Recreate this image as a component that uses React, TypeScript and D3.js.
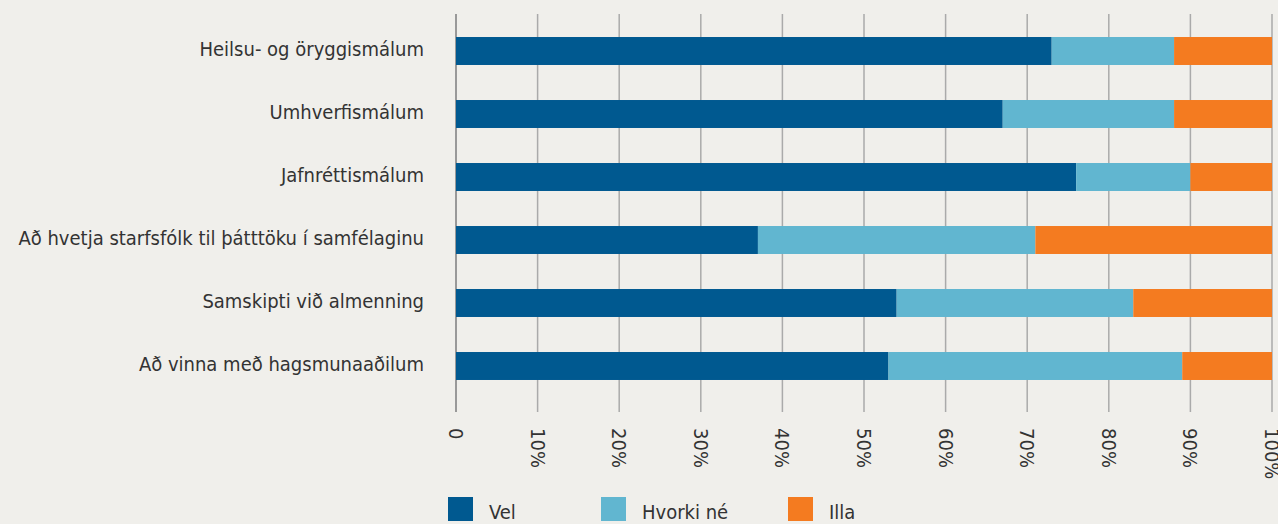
import React from "react";
import * as d3 from "d3";

const categories = [
  "Heilsu- og öryggismálum",
  "Umhverfismálum",
  "Jafnréttismálum",
  "Að hvetja starfsfólk til þátttöku í samfélaginu",
  "Samskipti við almenning",
  "Að vinna með hagsmunaaðilum",
];
const seriesNames = ["Vel", "Hvorki né", "Illa"];
const vel = [73, 67, 76, 37, 54, 53];
const hvorki = [15, 21, 14, 34, 29, 36];
const illa = [12, 12, 10, 29, 17, 11];
const ticks = [0, 10, 20, 30, 40, 50, 60, 70, 80, 90, 100];
const tickLabels = ["0", "10%", "20%", "30%", "40%", "50%", "60%", "70%", "80%", "90%", "100%"];
const colors = ["#005990", "#61b6d0", "#f47b20"];

const W = 1278;
const H = 524;
const FONT = "'Liberation Sans Narrow', 'DejaVu Sans Condensed', 'Roboto', sans-serif";

export default function App() {
  const x = d3.scaleLinear().domain([0, 100]).range([456, 1272]);
  const y = d3.scaleBand<string>().domain(categories).range([19.5, 397.5]).paddingInner(0.556).paddingOuter(0.278);
  const rows = categories.map((c, i) => ({ cat: c, Vel: vel[i], "Hvorki né": hvorki[i], Illa: illa[i] }));
  const stack = d3.stack<any>().keys(seriesNames)(rows);

  return (
    <svg width={W} height={H} style={{ position: "absolute", left: 0, top: 0, background: "#f0efeb" }} fontFamily={FONT}>
      <rect x={0} y={0} width={W} height={H} fill="#f0efeb" />
      {ticks.map((t, i) => (
        <line key={t} x1={x(t)} x2={x(t)} y1={14} y2={412} stroke={i === 0 ? "#999" : "#aaa"} strokeWidth={i === 0 ? 2 : 1.5} />
      ))}
      {stack.map((s, si) => (
        <g key={s.key} fill={colors[si]}>
          {s.map((d, i) => (
            <rect key={i} x={x(d[0])} y={y(categories[i])} width={x(d[1]) - x(d[0])} height={y.bandwidth()} />
          ))}
        </g>
      ))}
      {categories.map((c) => (
        <text key={c} x={424} y={(y(c) as number) + y.bandwidth() / 2 - 2} dy="0.35em" textAnchor="end" fontSize={20} fill="#333">
          {c}
        </text>
      ))}
      {ticks.map((t, i) => (
        <text key={t} transform={`translate(${x(t)},428) rotate(90)`} dy="0.35em" textAnchor="start" fontSize={20} fill="#333">
          {tickLabels[i]}
        </text>
      ))}
      {seriesNames.map((n, i) => {
        const lx = [448, 601, 788][i];
        return (
          <g key={n}>
            <rect x={lx} y={497} width={25} height={24} fill={colors[i]} />
            <text x={lx + 41} y={519} fontSize={20} fill="#333">{n}</text>
          </g>
        );
      })}
    </svg>
  );
}
